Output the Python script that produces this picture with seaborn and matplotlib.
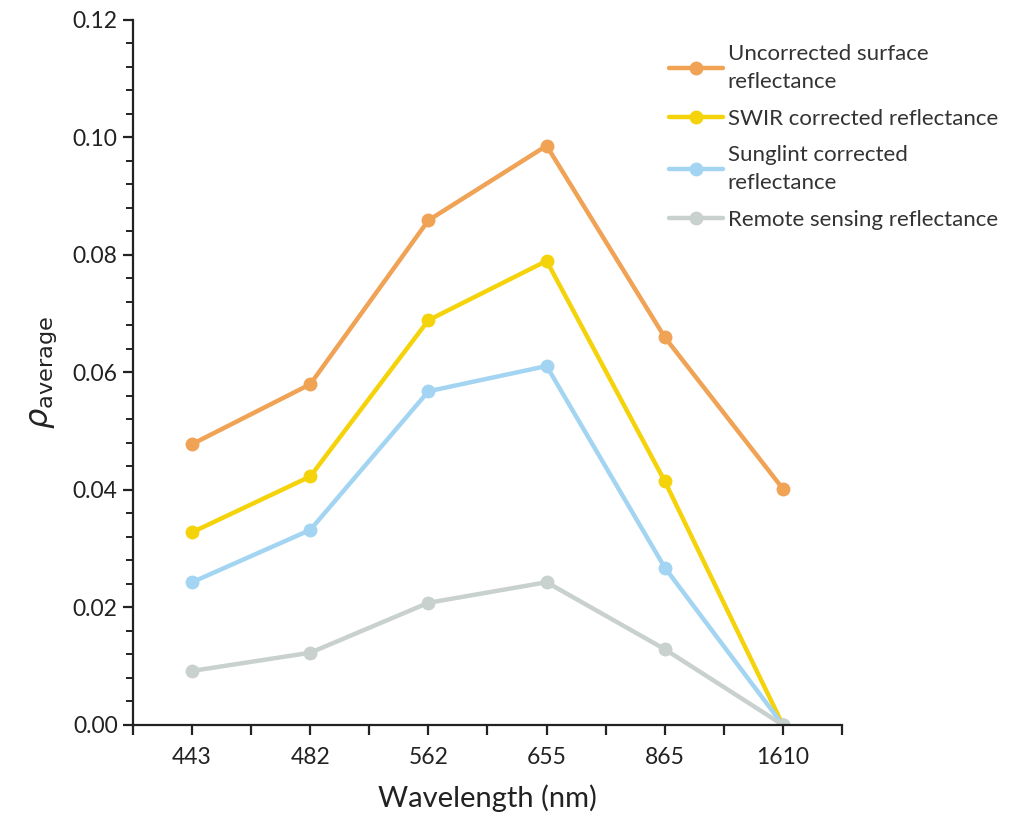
import matplotlib
matplotlib.use("Agg")
import matplotlib.pyplot as plt
from matplotlib.ticker import MultipleLocator, FixedLocator, NullFormatter
import seaborn as sns
import pandas as pd

# Band centres (nm) and mean reflectance per processing stage
wavelengths = ["443", "482", "562", "655", "865", "1610"]
uncorrected = [0.0478, 0.0580, 0.0859, 0.0986, 0.0660, 0.0402]
swir_corrected = [0.0328, 0.0423, 0.0689, 0.0790, 0.0415, 0.0]
sunglint_corrected = [0.0243, 0.0332, 0.0568, 0.0611, 0.0268, 0.0]
remote_sensing = [0.0092, 0.0123, 0.0208, 0.0243, 0.0129, 0.0]

series_names = [
    "Uncorrected surface\nreflectance",
    "SWIR corrected reflectance",
    "Sunglint corrected\nreflectance",
    "Remote sensing reflectance",
]
series_values = [uncorrected, swir_corrected, sunglint_corrected, remote_sensing]
colors = ["#F0A255", "#F5D30A", "#A3D5F2", "#C9D1CE"]

rows = []
for name, vals in zip(series_names, series_values):
    for wl, v in zip(wavelengths, vals):
        rows.append({"Wavelength": wl, "rho": v, "Series": name})
df = pd.DataFrame(rows)

sns.set_style("ticks")
plt.rcParams["font.family"] = ["Lato", "DejaVu Sans"]
plt.rcParams["mathtext.fontset"] = "dejavusans"

fig = plt.figure(figsize=(10.09, 8.23), dpi=100)
ax = fig.add_axes([0.1318, 0.1191, 0.7027, 0.8566])

sns.lineplot(
    data=df, x="Wavelength", y="rho", hue="Series",
    hue_order=series_names, palette=colors, sort=False,
    marker="o", markersize=10, markeredgewidth=0, linewidth=3.2,
    ax=ax, legend=True,
)

ax.set_xlim(-0.5, len(wavelengths) - 0.5)
ax.set_ylim(0, 0.12)
yt = [0, 0.02, 0.04, 0.06, 0.08, 0.10, 0.12]
ax.set_yticks(yt)
ax.set_yticklabels([f"{v:.2f}" for v in yt])
ax.yaxis.set_minor_locator(MultipleLocator(0.004))
ax.xaxis.set_minor_locator(FixedLocator([i - 0.5 for i in range(len(wavelengths) + 1)]))
ax.xaxis.set_minor_formatter(NullFormatter())

for s in ["top", "right"]:
    ax.spines[s].set_visible(False)
for s in ["left", "bottom"]:
    ax.spines[s].set_linewidth(1.6)
    ax.spines[s].set_color("#222222")

ax.tick_params(axis="both", which="major", direction="out", length=7, width=1.6,
               color="#222222", labelsize=16.5, labelcolor="#222222")
ax.tick_params(axis="y", which="major", pad=4)
ax.tick_params(axis="x", which="major", pad=9)
ax.tick_params(axis="x", which="minor", direction="out", length=7, width=1.6,
               color="#222222")
ax.tick_params(axis="y", which="minor", direction="out", length=5, width=1.4,
               color="#222222")

ax.set_xlabel("Wavelength (nm)", fontsize=21, color="#222222", labelpad=12)
ax.set_ylabel(r"$\rho_{\mathrm{average}}$", fontsize=23, color="#222222", labelpad=10)

handles, labels = ax.get_legend_handles_labels()
ax.get_legend().remove()
leg = fig.legend(handles, labels, loc="upper left", bbox_to_anchor=(0.643, 0.971),
                 frameon=False, fontsize=16, handlelength=2.45, handletextpad=0.2,
                 labelspacing=0.74, labelcolor="#333333")
for t in leg.get_texts():
    t.set_linespacing(1.52)

fig.savefig("out.png", dpi=100, facecolor="white")
